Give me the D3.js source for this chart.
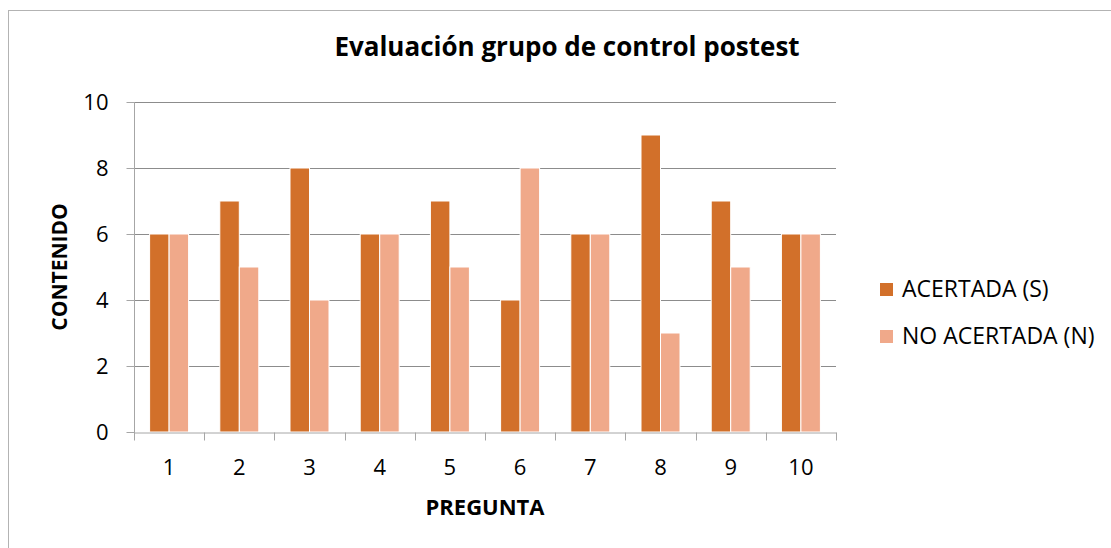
<!DOCTYPE html>
<html>
<head>
<meta charset="utf-8">
<script src="https://cdn.jsdelivr.net/npm/d3@7"></script>
<style>
  body { margin: 0; background: #fff; }
  text { font-family: "Open Sans", "Noto Sans", sans-serif; fill: #000; }
</style>
</head>
<body>
<svg id="viz" width="1111" height="548"></svg>
<script>
var preguntas = ["1", "2", "3", "4", "5", "6", "7", "8", "9", "10"];
var acertada = [6, 7, 8, 6, 7, 4, 6, 9, 7, 6];
var noAcertada = [6, 5, 4, 6, 5, 8, 6, 3, 5, 6];
var seriesNames = ["ACERTADA (S)", "NO ACERTADA (N)"];
var yTicks = [0, 2, 4, 6, 8, 10];

function drawChart() {
  var svg = d3.select("#viz");
  var colors = ["#d2702a", "#f0a98a"];
  var plot = { left: 134, right: 836, top: 102, bottom: 432 };

  // outer chart border
  svg.append("rect")
    .attr("x", 8.5).attr("y", 10.5)
    .attr("width", 1200).attr("height", 600)
    .attr("fill", "none").attr("stroke", "#b3b3b3");

  var x = d3.scaleBand().domain(preguntas).range([plot.left, plot.right]);
  var x1 = d3.scaleBand().domain([0, 1]).range([x.bandwidth() / 2 - 19.5, x.bandwidth() / 2 + 19.5]);
  var y = d3.scaleLinear().domain([0, 10]).range([plot.bottom, plot.top]);

  // gridlines
  svg.append("g")
    .selectAll("line")
    .data(yTicks.filter(function (d) { return d > 0; }))
    .enter()
    .append("line")
    .attr("x1", plot.left).attr("x2", plot.right)
    .attr("y1", function (d) { return Math.round(y(d)) + 0.5; })
    .attr("y2", function (d) { return Math.round(y(d)) + 0.5; })
    .attr("stroke", "#8c8c8c");

  // bars
  var groups = svg.append("g")
    .selectAll("g")
    .data(preguntas)
    .enter()
    .append("g")
    .attr("transform", function (d) { return "translate(" + x(d) + ",0)"; });

  groups.selectAll("rect")
    .data(function (d, i) { return [acertada[i], noAcertada[i]]; })
    .enter()
    .append("rect")
    .attr("x", function (d, j) { return x1(j); })
    .attr("width", x1.bandwidth())
    .attr("y", function (d) { return y(d); })
    .attr("height", function (d) { return y(0) - y(d); })
    .attr("fill", function (d, j) { return colors[j]; })
    .attr("stroke", "#fff")
    .attr("stroke-width", 1);

  // y axis
  var yAxis = svg.append("g")
    .attr("transform", "translate(" + (plot.left + 0.5) + ",0)")
    .call(d3.axisLeft(y).tickValues(yTicks).tickSize(8).tickPadding(18).tickFormat(d3.format("d")));
  yAxis.select(".domain").attr("stroke", "#a6a6a6").attr("d", "M0," + plot.top + "V" + (plot.bottom + 8));
  yAxis.selectAll(".tick line").attr("stroke", "#a6a6a6");
  yAxis.selectAll(".tick text").style("font-size", "22px").attr("dy", "0.35em");

  // x axis
  var xAxis = svg.append("g")
    .attr("transform", "translate(0," + (plot.bottom + 0.5) + ")")
    .call(d3.axisBottom(x).tickSize(0).tickPadding(27));
  xAxis.select(".domain").attr("stroke", "#a6a6a6");
  xAxis.selectAll(".tick text").style("font-size", "22px");
  xAxis.append("g")
    .selectAll("line")
    .data(preguntas.concat(["end"]))
    .enter()
    .append("line")
    .attr("x1", function (d, i) { return Math.round(plot.left + i * x.step()) + 0.5; })
    .attr("x2", function (d, i) { return Math.round(plot.left + i * x.step()) + 0.5; })
    .attr("y1", 0).attr("y2", 8)
    .attr("stroke", "#a6a6a6");

  // title
  svg.append("text")
    .attr("x", 567).attr("y", 56)
    .attr("text-anchor", "middle")
    .style("font-size", "26px").style("font-weight", "bold")
    .text("Evaluación grupo de control postest");

  // axis titles
  svg.append("text")
    .attr("transform", "translate(67,267) rotate(-90)")
    .attr("text-anchor", "middle")
    .style("font-size", "21px").style("font-weight", "bold")
    .text("CONTENIDO");
  svg.append("text")
    .attr("x", 485).attr("y", 515)
    .attr("text-anchor", "middle")
    .style("font-size", "22px").style("font-weight", "bold")
    .text("PREGUNTA");

  // legend
  var legend = svg.append("g")
    .selectAll("g")
    .data(seriesNames)
    .enter()
    .append("g")
    .attr("transform", function (d, i) { return "translate(880," + (283 + i * 47) + ")"; });
  legend.append("rect")
    .attr("width", 13).attr("height", 13)
    .attr("fill", function (d, i) { return colors[i]; });
  legend.append("text")
    .attr("x", 22).attr("y", 14)
    .style("font-size", "23px")
    .text(function (d) { return d; });
}

drawChart();
</script>
</body>
</html>
